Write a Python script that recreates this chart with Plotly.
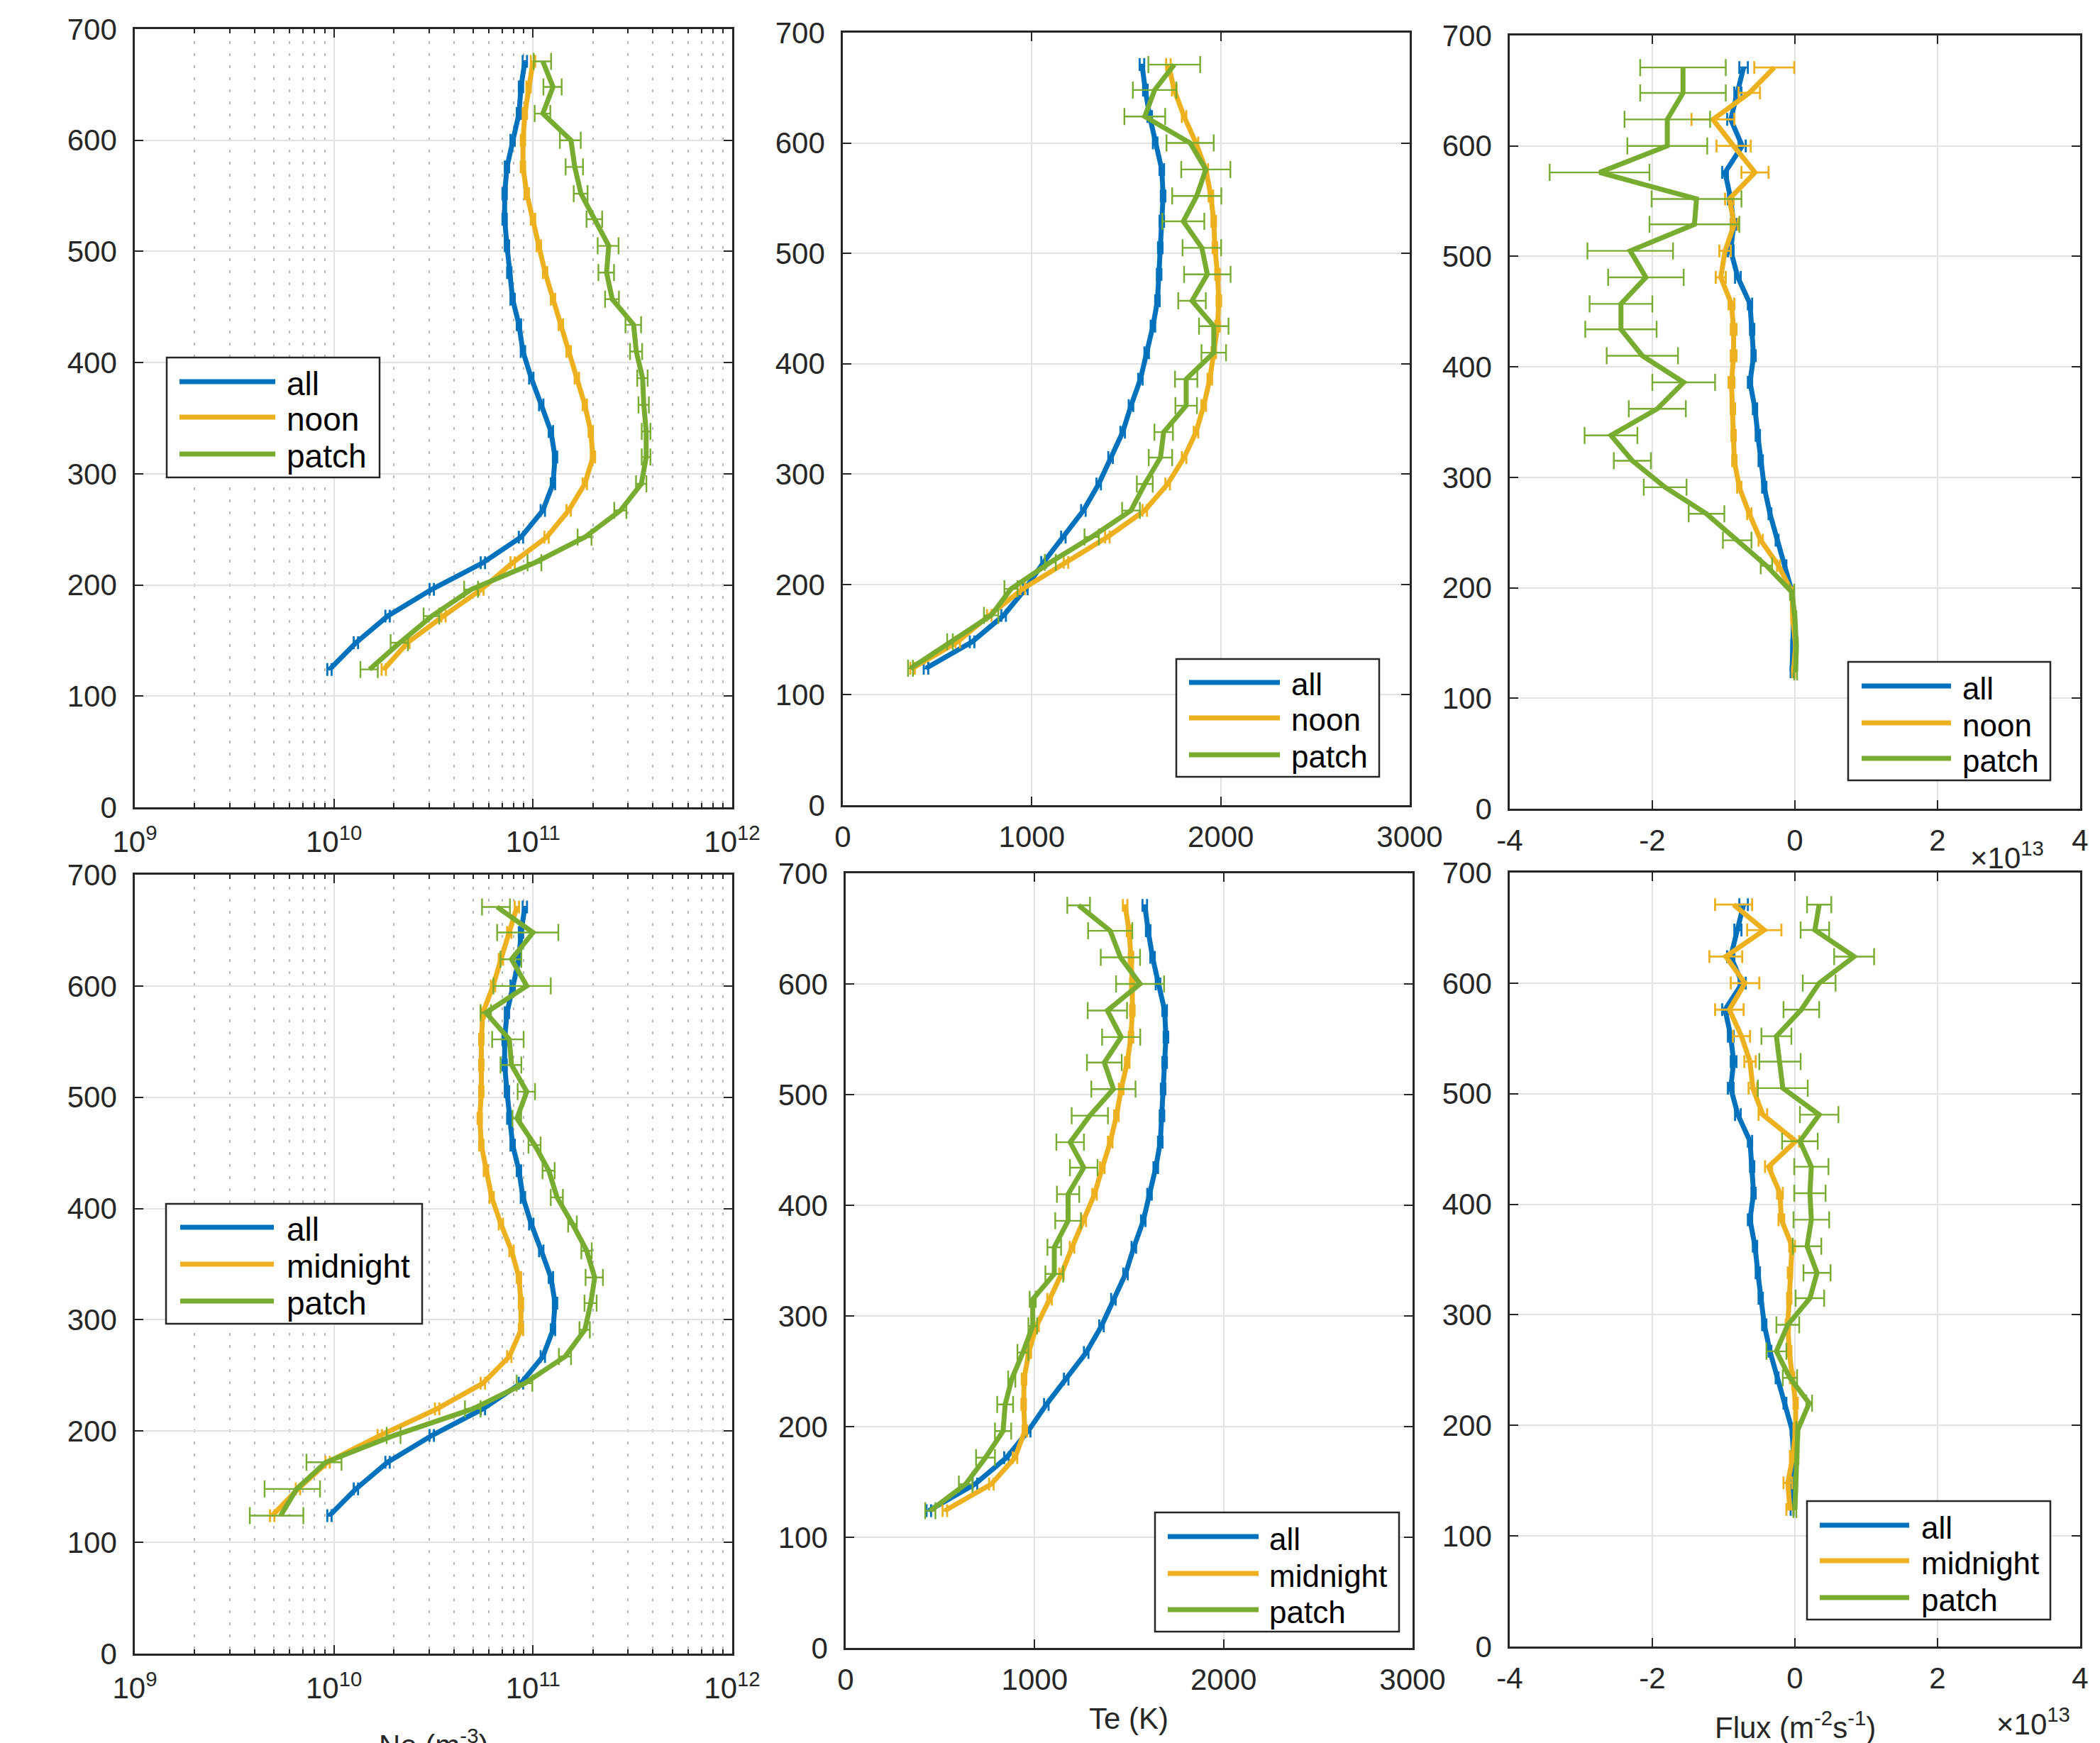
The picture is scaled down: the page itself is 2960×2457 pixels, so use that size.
import plotly.graph_objects as go

# ---------------- data (altitude grid, km) ----------------
ALT = [124, 148, 172, 196, 220, 243, 267, 291, 315, 338, 362, 386,
       410, 434, 457, 481, 505, 529, 552, 576, 600, 624, 648, 671]

# Electron density Ne (m^-3)
NE_ALL = [9.5e9, 1.29e10, 1.86e10, 3.1e10, 5.6e10, 8.7e10, 1.12e11, 1.26e11,
          1.29e11, 1.23e11, 1.10e11, 9.8e10, 8.9e10, 8.5e10, 7.9e10, 7.6e10,
          7.4e10, 7.2e10, 7.2e10, 7.4e10, 7.9e10, 8.5e10, 8.7e10, 9.1e10]
NE_NOON = [1.78e10, 2.34e10, 3.55e10, 5.5e10, 7.9e10, 1.17e11, 1.51e11, 1.82e11,
           2.0e11, 1.95e11, 1.82e11, 1.66e11, 1.51e11, 1.38e11, 1.26e11, 1.15e11,
           1.07e11, 1.0e11, 9.3e10, 8.9e10, 8.9e10, 9.1e10, 9.5e10, 1.0e11]
NE_PATCH_NOON = [1.51e10, 2.14e10, 3.1e10, 4.9e10, 1.02e11, 1.82e11, 2.75e11, 3.5e11,
                 3.7e11, 3.7e11, 3.6e11, 3.55e11, 3.3e11, 3.2e11, 2.5e11, 2.34e11,
                 2.4e11, 2.04e11, 1.74e11, 1.62e11, 1.55e11, 1.12e11, 1.26e11, 1.12e11]
NE_PATCH_NOON_ERRFRAC = [0.10, 0.10, 0.09, 0.08, 0.08, 0.08, 0.07, 0.06, 0.05, 0.05, 0.06, 0.06,
                         0.07, 0.09, 0.08, 0.09, 0.12, 0.09, 0.08, 0.10, 0.12, 0.09, 0.105, 0.10]
NE_MIDNIGHT = [4.9e9, 6.6e9, 9.3e9, 1.7e10, 3.3e10, 5.6e10, 7.6e10, 8.7e10,
               8.7e10, 8.5e10, 7.8e10, 6.9e10, 6.2e10, 5.8e10, 5.5e10, 5.4e10,
               5.5e10, 5.5e10, 5.5e10, 5.6e10, 6.3e10, 6.9e10, 7.6e10, 8.3e10]
NE_PATCH_MID = [5.4e9, 6.5e9, 9.1e9, 2.0e10, 5.0e10, 9.1e10, 1.45e11, 1.82e11,
                1.95e11, 2.04e11, 1.86e11, 1.58e11, 1.32e11, 1.20e11, 1.02e11, 8.3e10,
                9.3e10, 7.8e10, 7.6e10, 5.8e10, 9.3e10, 7.8e10, 1.0e11, 6.6e10]
NE_PATCH_MID_ERRFRAC = [0.30, 0.31, 0.20, 0.08, 0.09, 0.09, 0.07, 0.06, 0.07, 0.10, 0.06, 0.05,
                        0.07, 0.07, 0.07, 0.05, 0.10, 0.12, 0.18, 0.06, 0.32, 0.12, 0.34, 0.16]
NE_SMALL_ERRFRAC = 0.025

# Electron temperature Te (K)
TE_ALL = [440, 684, 851, 966, 1062, 1167, 1273, 1354, 1417, 1481, 1525, 1575,
          1608, 1641, 1665, 1674, 1680, 1688, 1695, 1688, 1653, 1624, 1601, 1583]
TE_NOON = [369, 608, 775, 952, 1181, 1400, 1598, 1719, 1806, 1869, 1910, 1942,
           1963, 1983, 1990, 1983, 1969, 1963, 1948, 1921, 1869, 1806, 1754, 1723]
TE_PATCH_NOON = [358, 567, 785, 890, 1098, 1317, 1525, 1598, 1681, 1698, 1817, 1817,
                 1963, 1963, 1848, 1929, 1900, 1802, 1873, 1921, 1838, 1598, 1650, 1754]
TE_PATCH_NOON_ERR = [13, 15, 38, 35, 29, 38, 47, 42, 62, 49, 57, 59,
                     65, 78, 73, 123, 102, 111, 130, 130, 125, 108, 115, 137]
TE_MIDNIGHT = [525, 771, 896, 948, 942, 944, 969, 1010, 1079, 1142, 1198, 1260,
               1317, 1358, 1400, 1433, 1458, 1490, 1510, 1517, 1517, 1510, 1500, 1479]
TE_PATCH_MID = [448, 635, 740, 833, 844, 879, 938, 990, 990, 1104, 1104, 1177,
                1177, 1260, 1188, 1292, 1417, 1369, 1458, 1385, 1558, 1454, 1400, 1233]
TE_PATCH_MID_ERR = [27, 36, 50, 43, 42, 19, 29, 23, 16, 47, 36, 68,
                    59, 73, 73, 96, 117, 92, 101, 104, 127, 104, 117, 60]
TE_SMALL_ERR = 12

# Flux (x 1e13 m^-2 s^-1)
FLUX_ALL = [-0.04, -0.03, -0.02, -0.04, -0.14, -0.25, -0.35, -0.43, -0.48, -0.52, -0.56, -0.63,
            -0.58, -0.60, -0.63, -0.80, -0.90, -0.86, -0.90, -0.98, -0.74, -0.90, -0.80, -0.72]
FLUX_ALL_ERR = [0.02, 0.02, 0.02, 0.02, 0.02, 0.02, 0.02, 0.03, 0.03, 0.03, 0.03, 0.03,
                0.03, 0.03, 0.03, 0.04, 0.04, 0.04, 0.04, 0.04, 0.05, 0.05, 0.05, 0.06]
FLUX_NOON = [-0.02, 0.01, -0.03, -0.04, -0.23, -0.48, -0.64, -0.78, -0.85, -0.86, -0.87, -0.89,
             -0.86, -0.86, -0.89, -1.04, -0.98, -0.85, -0.92, -0.56, -0.86, -1.15, -0.64, -0.29]
FLUX_NOON_ERR = [0.02, 0.02, 0.02, 0.02, 0.02, 0.03, 0.03, 0.03, 0.03, 0.03, 0.03, 0.04,
                 0.04, 0.04, 0.04, 0.07, 0.08, 0.05, 0.06, 0.19, 0.24, 0.30, 0.15, 0.28]
FLUX_PATCH_NOON = [0.01, 0.02, 0.0, -0.04, -0.40, -0.81, -1.24, -1.82, -2.28, -2.58, -1.93, -1.56,
                   -2.14, -2.44, -2.44, -2.09, -2.31, -1.41, -1.38, -2.74, -1.79, -1.79, -1.57, -1.57]
FLUX_PATCH_NOON_ERR = [0.02, 0.02, 0.02, 0.03, 0.08, 0.20, 0.25, 0.30, 0.26, 0.37, 0.40, 0.44,
                       0.50, 0.50, 0.44, 0.53, 0.60, 0.63, 0.63, 0.70, 0.56, 0.60, 0.60, 0.60]
FLUX_MIDNIGHT = [-0.07, -0.10, -0.03, 0.01, 0.01, -0.04, -0.08, -0.10, -0.08, -0.07, -0.04, -0.19,
                 -0.21, -0.37, 0.01, -0.45, -0.59, -0.63, -0.75, -0.92, -0.70, -0.97, -0.43, -0.86]
FLUX_MIDNIGHT_ERR = [0.05, 0.06, 0.04, 0.03, 0.03, 0.03, 0.03, 0.03, 0.03, 0.03, 0.04, 0.04,
                     0.04, 0.05, 0.05, 0.06, 0.06, 0.08, 0.12, 0.20, 0.20, 0.23, 0.24, 0.26]
FLUX_PATCH_MID = [0.0, 0.01, 0.03, 0.04, 0.20, -0.07, -0.26, -0.10, 0.21, 0.31, 0.17, 0.23,
                  0.21, 0.23, 0.07, 0.34, -0.17, -0.21, -0.26, 0.09, 0.34, 0.83, 0.28, 0.34]
FLUX_PATCH_MID_ERR = [0.02, 0.02, 0.02, 0.02, 0.04, 0.10, 0.14, 0.16, 0.20, 0.19, 0.20, 0.25,
                      0.22, 0.24, 0.25, 0.27, 0.35, 0.29, 0.21, 0.25, 0.23, 0.28, 0.20, 0.17]

LABELS_NOON = ["all", "noon", "patch"]
LABELS_MID = ["all", "midnight", "patch"]
NE_TICKS = [1e9, 1e10, 1e11, 1e12]
NE_TICKTEXT = ["10<sup>9</sup>", "10<sup>10</sup>", "10<sup>11</sup>", "10<sup>12</sup>"]
TE_TICKS = [0, 1000, 2000, 3000]
FLUX_TICKS = [-4, -2, 0, 2, 4]
ALT_TICKS = [0, 100, 200, 300, 400, 500, 600, 700]

# ---------------- style ----------------
W, H = 2960, 2457
COLORS = ["#0072BD", "#EDB120", "#77AC30"]
AXC = "#262626"
GRID = "#e2e2e2"
MINOR = "#b8b8b8"
FONT = "Liberation Sans, Arial, Helvetica, sans-serif"
FS = 42


def fx(px):
    return px / W


def fy(py):
    return 1 - py / H


# panel boxes in pixels: (left, right, top, bottom)
BOX = {
    1: (190, 1032, 41, 1138),
    2: (1188, 1987, 46, 1135),
    3: (2128, 2932, 50, 1140),
    4: (190, 1032, 1233, 2331),
    5: (1192, 1991, 1231, 2323),
    6: (2128, 2932, 1230, 2321),
}
# legend geometry in pixels: box (l, t, r, b), sample line x-range, text x, row y's, font size
LEG = {
    1: dict(box=(235, 504, 535, 673), lx=(253, 388), tx=402, rows=(538, 588, 640), fs=46),
    2: dict(box=(1658, 929, 1944, 1095), lx=(1676, 1804), tx=1818, rows=(962, 1012, 1064), fs=44),
    3: dict(box=(2605, 933, 2890, 1100), lx=(2624, 2750), tx=2764, rows=(967, 1019, 1069), fs=44),
    4: dict(box=(234, 1697, 595, 1866), lx=(254, 386), tx=402, rows=(1730, 1782, 1834), fs=46),
    5: dict(box=(1628, 2132, 1972, 2300), lx=(1646, 1774), tx=1787, rows=(2166, 2218, 2269), fs=44),
    6: dict(box=(2547, 2116, 2890, 2283), lx=(2565, 2691), tx=2706, rows=(2150, 2200, 2252), fs=44),
}

fig = go.Figure()


def add_panel(i, xs, xerrs, labels):
    xa = "x" if i == 1 else f"x{i}"
    ya = "y" if i == 1 else f"y{i}"
    for k, (x, err, lab) in enumerate(zip(xs, xerrs, labels)):
        c = COLORS[k]
        is_patch = k == 2
        fig.add_trace(go.Scatter(
            x=x, y=ALT, mode="lines", name=lab,
            line=dict(color=c, width=7),
            error_x=dict(type="data", array=err, visible=True, color=c,
                         thickness=2.4 if is_patch else 2.8,
                         width=12 if is_patch else 9),
            xaxis=xa, yaxis=ya, showlegend=False,
        ))


def frac_err(vals, frac):
    return [v * f for v, f in zip(vals, frac)]


def small(vals, f):
    return [v * f for v in vals]


PANELS = {
    1: ([NE_ALL, NE_NOON, NE_PATCH_NOON],
        [small(NE_ALL, NE_SMALL_ERRFRAC), small(NE_NOON, NE_SMALL_ERRFRAC),
         frac_err(NE_PATCH_NOON, NE_PATCH_NOON_ERRFRAC)], LABELS_NOON),
    2: ([TE_ALL, TE_NOON, TE_PATCH_NOON],
        [[TE_SMALL_ERR] * len(ALT), [TE_SMALL_ERR] * len(ALT), TE_PATCH_NOON_ERR], LABELS_NOON),
    3: ([FLUX_ALL, FLUX_NOON, FLUX_PATCH_NOON],
        [FLUX_ALL_ERR, FLUX_NOON_ERR, FLUX_PATCH_NOON_ERR], LABELS_NOON),
    4: ([NE_ALL, NE_MIDNIGHT, NE_PATCH_MID],
        [small(NE_ALL, NE_SMALL_ERRFRAC), small(NE_MIDNIGHT, NE_SMALL_ERRFRAC),
         frac_err(NE_PATCH_MID, NE_PATCH_MID_ERRFRAC)], LABELS_MID),
    5: ([TE_ALL, TE_MIDNIGHT, TE_PATCH_MID],
        [[TE_SMALL_ERR] * len(ALT), [TE_SMALL_ERR] * len(ALT), TE_PATCH_MID_ERR], LABELS_MID),
    6: ([FLUX_ALL, FLUX_MIDNIGHT, FLUX_PATCH_MID],
        [FLUX_ALL_ERR, FLUX_MIDNIGHT_ERR, FLUX_PATCH_MID_ERR], LABELS_MID),
}
for i, (xs, errs, labs) in PANELS.items():
    add_panel(i, xs, errs, labs)

common = dict(showline=True, linecolor=AXC, linewidth=2.5, mirror="ticks",
              ticks="inside", ticklen=12, tickwidth=2, tickcolor=AXC,
              showgrid=True, gridcolor=GRID, gridwidth=2, zeroline=False,
              automargin=False,
              tickfont=dict(family=FONT, size=FS, color=AXC))

minor_vals = [m * 10 ** e for e in (9, 10, 11) for m in range(2, 10)]

layout = dict(width=W, height=H, margin=dict(l=0, r=0, t=0, b=0, autoexpand=False),
              paper_bgcolor="white", plot_bgcolor="white",
              font=dict(family=FONT, size=FS, color=AXC),
              showlegend=False)

shapes = []
ann = []
for i, (l, r, t, b) in BOX.items():
    xk = "xaxis" if i == 1 else f"xaxis{i}"
    yk = "yaxis" if i == 1 else f"yaxis{i}"
    ya = "y" if i == 1 else f"y{i}"
    xa = "x" if i == 1 else f"x{i}"
    xd = dict(common, domain=[fx(l), fx(r)], anchor=ya, ticklabelstandoff=6)
    if i in (1, 4):
        xd.update(type="log", range=[9, 12], tickmode="array", tickvals=NE_TICKS,
                  ticktext=NE_TICKTEXT, ticklabelstandoff=10,
                  minor=dict(tickmode="array", tickvals=minor_vals, ticks="inside",
                             ticklen=6, tickcolor=AXC, showgrid=True, gridcolor=MINOR,
                             griddash="4px,13px", gridwidth=1.5))
    elif i in (2, 5):
        xd.update(range=[0, 3000], tickmode="array", tickvals=TE_TICKS,
                  ticktext=[str(v) for v in TE_TICKS])
    else:
        xd.update(range=[-4, 4], tickmode="array", tickvals=FLUX_TICKS,
                  ticktext=[str(v) for v in FLUX_TICKS])
    yd = dict(common, domain=[fy(b), fy(t)], anchor=xa, range=[0, 700],
              tickmode="array", tickvals=ALT_TICKS, ticktext=[str(v) for v in ALT_TICKS],
              ticklabelstandoff=14)
    layout[xk] = xd
    layout[yk] = yd

    # legend box (drawn above the data, like the original)
    g = LEG[i]
    bl, bt, br, bb = g["box"]
    shapes.append(dict(type="rect", xref="paper", yref="paper",
                       x0=fx(bl), x1=fx(br), y0=fy(bb), y1=fy(bt),
                       line=dict(color=AXC, width=2.5), fillcolor="white", layer="above"))
    labels = PANELS[i][2]
    for k, lab in enumerate(labels):
        yrow = g["rows"][k]
        shapes.append(dict(type="line", xref="paper", yref="paper",
                           x0=fx(g["lx"][0]), x1=fx(g["lx"][1]), y0=fy(yrow), y1=fy(yrow),
                           line=dict(color=COLORS[k], width=7), layer="above"))
        ann.append(dict(text=lab, x=fx(g["tx"]), y=fy(yrow + 3), xref="paper", yref="paper",
                        xanchor="left", yanchor="middle", showarrow=False,
                        font=dict(family=FONT, size=g["fs"], color="#000000")))

layout["shapes"] = shapes
fig.update_layout(**layout)

ann += [
    dict(text="×10<sup>13</sup>", x=fx(2775), y=fy(1206), xref="paper", yref="paper",
         xanchor="left", yanchor="middle",
         showarrow=False, font=dict(family=FONT, size=FS, color=AXC)),
    dict(text="×10<sup>13</sup>", x=fx(2812), y=fy(2427), xref="paper", yref="paper",
         xanchor="left", yanchor="middle",
         showarrow=False, font=dict(family=FONT, size=FS, color=AXC)),
    dict(text="Ne (m<sup>-3</sup>)", x=fx(611), y=fy(2428), xref="paper", yref="paper",
         xanchor="center", yanchor="top", showarrow=False,
         font=dict(family=FONT, size=FS, color=AXC)),
    dict(text="Te (K)", x=fx(1591), y=fy(2422), xref="paper", yref="paper",
         xanchor="center", yanchor="middle",
         showarrow=False, font=dict(family=FONT, size=FS, color=AXC)),
    dict(text="Flux (m<sup>-2</sup>s<sup>-1</sup>)", x=fx(2530), y=fy(2432), xref="paper",
         yref="paper", xanchor="center", yanchor="middle", showarrow=False,
         font=dict(family=FONT, size=FS, color=AXC)),
]
fig.update_layout(annotations=ann)

fig.write_html("out.html")
